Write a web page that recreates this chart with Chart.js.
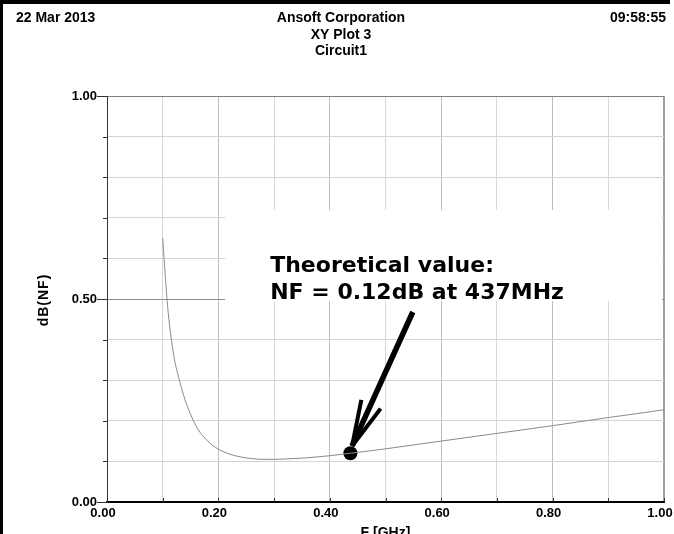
<!DOCTYPE html>
<html lang="en">
<head>
    <meta charset="UTF-8">
    <title>XY Plot 3</title>
    <script src="https://cdn.jsdelivr.net/npm/chart.js"></script>
    <style>
        html, body { margin: 0; padding: 0; background: #fff; }
        #wrap { width: 674px; height: 534px; position: relative; }
    </style>
</head>
<body>
    <div id="wrap"><canvas id="nfChart" width="674" height="534"></canvas></div>

    <script>
        // Curve: noise figure (dB) vs frequency (GHz)
        const freqGHz = [0.100, 0.105, 0.110, 0.120, 0.130, 0.140, 0.150, 0.160, 0.170, 0.180,
                         0.190, 0.200, 0.220, 0.240, 0.260, 0.280, 0.300, 0.320, 0.350, 0.400,
                         0.437, 0.500, 0.600, 0.700, 0.800, 0.900, 1.000];
        const nfdB    = [0.650, 0.550, 0.465, 0.360, 0.300, 0.252, 0.216, 0.187, 0.166, 0.151,
                         0.139, 0.130, 0.118, 0.111, 0.107, 0.105, 0.105, 0.106, 0.108, 0.114,
                         0.120, 0.131, 0.150, 0.169, 0.188, 0.208, 0.227];

        // highlighted point
        const markerFreq = [0.437];
        const markerNF = [0.12];

        // labelled ticks
        const xTickLabels = [0.0, 0.2, 0.4, 0.6, 0.8, 1.0];
        const yTickLabels = [0.0, 0.5, 1.0];

        const noteLines = ['Theoretical value:', 'NF = 0.12dB at 437MHz'];

        const sansBold = 'bold 14px "Liberation Sans", Arial, sans-serif';
        const tickFont = { family: '"Liberation Sans", Arial, sans-serif', size: 13, weight: 'bold' };

        function isLabelled(list, v) {
            return list.some(t => Math.abs(t - v) < 1e-6);
        }

        const decor = {
            id: 'ansoftDecor',
            beforeDraw(chart) {
                const c = chart.ctx;
                c.save();
                c.fillStyle = '#fff';
                c.fillRect(0, 0, chart.width, chart.height);
                c.fillStyle = '#000';
                c.fillRect(0, 0, 670, 4);
                c.fillRect(0, 0, 3, chart.height);
                c.restore();
            },
            beforeDatasetsDraw(chart) {
                // white box behind the note hides the grid
                const x = chart.scales.x, y = chart.scales.y, c = chart.ctx;
                const l = x.getPixelForValue(0.212), r = x.getPixelForValue(0.9965);
                const t = y.getPixelForValue(0.719), b = y.getPixelForValue(0.495);
                c.save();
                c.fillStyle = '#fff';
                c.fillRect(l, t, r - l, b - t);
                c.restore();
            },
            afterDraw(chart) {
                const c = chart.ctx, xs = chart.scales.x, ys = chart.scales.y;
                const area = chart.chartArea;
                c.save();

                // header
                c.fillStyle = '#000';
                c.font = sansBold;
                c.textBaseline = 'alphabetic';
                c.textAlign = 'left';
                c.fillText('22 Mar 2013', 16, 22);
                c.textAlign = 'right';
                c.fillText('09:58:55', 666, 22);
                c.textAlign = 'center';
                c.fillText('Ansoft Corporation', 341, 22);
                c.fillText('XY Plot 3', 341, 38.5);
                c.fillText('Circuit1', 341, 55);

                // axis titles
                c.fillText('F [GHz]', (area.left + area.right) / 2, 537);
                c.save();
                c.translate(44, 300);
                c.rotate(-Math.PI / 2);
                c.textBaseline = 'middle';
                c.letterSpacing = '1px';
                c.fillText('dB(NF)', 0, 0);
                c.restore();

                // tick marks
                c.strokeStyle = '#333';
                c.lineWidth = 1;
                ys.ticks.forEach(t => {
                    const py = Math.round(ys.getPixelForValue(t.value)) + 0.5;
                    const len = isLabelled(yTickLabels, t.value) ? 10 : 4;
                    c.beginPath();
                    c.moveTo(area.left - len, py);
                    c.lineTo(area.left, py);
                    c.stroke();
                });
                xs.ticks.forEach(t => {
                    const px = Math.round(xs.getPixelForValue(t.value)) + 0.5;
                    c.beginPath();
                    c.moveTo(px, area.bottom);
                    c.lineTo(px, area.bottom - 4);
                    c.stroke();
                });

                // note text
                c.font = 'bold 22px "DejaVu Sans", Verdana, sans-serif';
                c.textAlign = 'left';
                c.textBaseline = 'alphabetic';
                const tx = xs.getPixelForValue(0.293);
                c.fillText(noteLines[0], tx, ys.getPixelForValue(0.567));
                c.fillText(noteLines[1], tx, ys.getPixelForValue(0.499));

                // arrow
                const ax0 = xs.getPixelForValue(0.549), ay0 = ys.getPixelForValue(0.468);
                const ax1 = xs.getPixelForValue(0.440), ay1 = ys.getPixelForValue(0.138);
                c.strokeStyle = '#000';
                c.lineCap = 'butt';
                c.lineWidth = 5.5;
                c.beginPath();
                c.moveTo(ax0, ay0);
                c.lineTo(ax1, ay1);
                c.stroke();
                const back = Math.atan2(ay0 - ay1, ax0 - ax1);
                const barb = 47, spread = 13 * Math.PI / 180;
                c.lineWidth = 4;
                [-spread, spread].forEach(s => {
                    c.beginPath();
                    c.moveTo(ax1, ay1);
                    c.lineTo(ax1 + barb * Math.cos(back + s), ay1 + barb * Math.sin(back + s));
                    c.stroke();
                });
                c.restore();
            }
        };

        function gridColour(ctx, labelled, minor, major) {
            const v = ctx.tick ? ctx.tick.value : 0;
            return isLabelled(labelled, v) ? major : minor;
        }

        const ctx = document.getElementById('nfChart').getContext('2d');
        const nfChart = new Chart(ctx, {
            type: 'line',
            data: {
                datasets: [{
                    label: 'dB(NF)',
                    data: freqGHz.map((f, i) => ({ x: f, y: nfdB[i] })),
                    borderColor: '#8a8a8a',
                    borderWidth: 1,
                    pointRadius: 0,
                    cubicInterpolationMode: 'monotone',
                    fill: false
                }, {
                    label: 'marker',
                    data: markerFreq.map((f, i) => ({ x: f, y: markerNF[i] })),
                    showLine: false,
                    pointRadius: 7,
                    pointBackgroundColor: '#000',
                    pointBorderColor: '#000',
                    pointBorderWidth: 0
                }]
            },
            plugins: [decor],
            options: {
                responsive: false,
                animation: false,
                devicePixelRatio: 1,
                layout: { padding: { top: 96, right: 10, left: 0, bottom: 0 } },
                plugins: {
                    legend: { display: false },
                    tooltip: { enabled: false }
                },
                scales: {
                    x: {
                        type: 'linear',
                        min: 0,
                        max: 1,
                        afterFit(scale) {
                            scale.height = 32;
                            scale.paddingLeft = 0;
                            scale.paddingRight = 0;
                        },
                        ticks: {
                            stepSize: 0.1,
                            autoSkip: false,
                            maxRotation: 0,
                            padding: 4,
                            labelOffset: -4,
                            color: '#000',
                            font: tickFont,
                            callback: v => isLabelled(xTickLabels, v) ? v.toFixed(2) : ''
                        },
                        grid: {
                            drawTicks: false,
                            color: ctx => {
                                const v = ctx.tick ? ctx.tick.value : 0;
                                if (Math.abs(v - 1) < 1e-6) return '#a0a0a0';
                                return gridColour(ctx, xTickLabels, '#d8d8d8', '#bcbcbc');
                            },
                            lineWidth: ctx => (ctx.tick && Math.abs(ctx.tick.value - 1) < 1e-6) ? 2 : 1
                        },
                        border: { display: true, color: '#000', width: 2 }
                    },
                    y: {
                        min: 0,
                        max: 1,
                        afterFit(scale) {
                            scale.width = 107;
                            scale.paddingTop = 0;
                            scale.paddingBottom = 0;
                        },
                        ticks: {
                            stepSize: 0.1,
                            autoSkip: false,
                            padding: 10,
                            color: '#000',
                            font: tickFont,
                            callback: v => isLabelled(yTickLabels, v) ? v.toFixed(2) : ''
                        },
                        grid: {
                            drawTicks: false,
                            color: ctx => {
                                const v = ctx.tick ? ctx.tick.value : 0;
                                if (Math.abs(v - 1) < 1e-6) return '#808080';
                                return gridColour(ctx, yTickLabels, '#d4d4d4', '#8c8c8c');
                            }
                        },
                        border: { display: true, color: '#333', width: 1 }
                    }
                }
            }
        });
    </script>
</body>
</html>
